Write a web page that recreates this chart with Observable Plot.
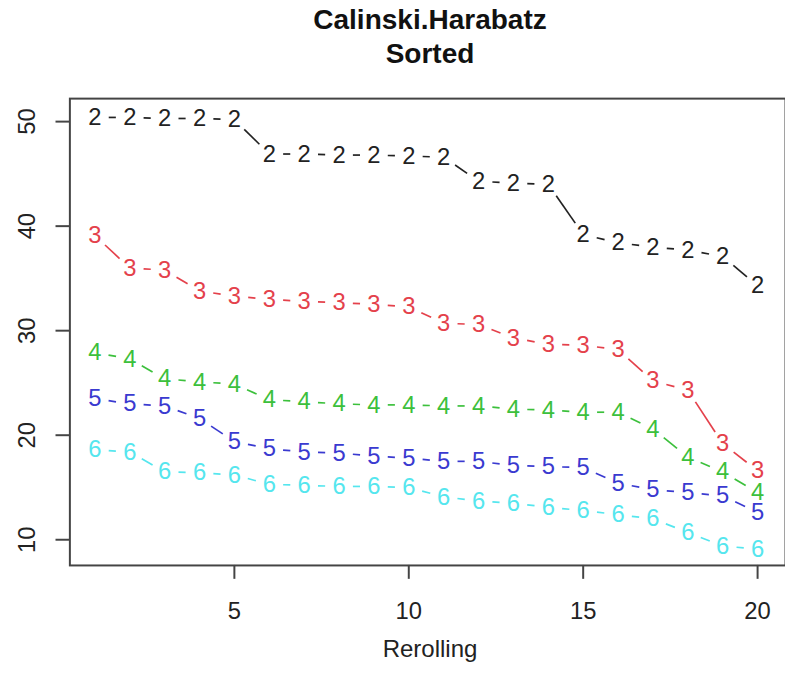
<!DOCTYPE html>
<html><head><meta charset="utf-8">
<script src="https://cdn.jsdelivr.net/npm/d3@7"></script>
<script src="https://cdn.jsdelivr.net/npm/@observablehq/plot@0.6"></script>
<style>
body{margin:0;background:#fff;}
#wrap{position:relative;width:785px;height:687px;overflow:hidden;background:#fff;font-family:"Liberation Sans",Arial,Helvetica,sans-serif;}
#chart{position:absolute;left:0;top:0;}
#title{position:absolute;left:0;top:3px;width:860px;text-align:center;font-weight:bold;font-size:28px;line-height:34px;color:#111;}
#xlab{position:absolute;left:0;top:635px;width:860px;text-align:center;font-size:24px;line-height:28px;color:#222;}
</style></head><body>
<div id="wrap"><div id="chart"></div><div id="title">Calinski.Harabatz<br>Sorted</div><div id="xlab">Rerolling</div></div>
<script>
const rerolling = [1,2,3,4,5,6,7,8,9,10,11,12,13,14,15,16,17,18,19,20];
const seriesNames = ["2","3","4","5","6"];
const seriesColors = ["#222222","#e4414b","#3cc03c","#3a3ad0","#55e6ee"];
const k2 = [50.4,50.4,50.3,50.3,50.2,46.9,46.9,46.8,46.8,46.7,46.6,44.3,44.1,44.0,39.2,38.4,38.0,37.7,37.1,34.3];
const k3 = [39.1,36.0,35.8,33.8,33.3,33.0,32.8,32.7,32.5,32.3,30.7,30.6,29.3,28.7,28.6,28.2,25.2,24.3,19.2,16.6];
const k4 = [27.9,27.3,25.4,25.1,24.9,23.4,23.2,23.0,22.9,22.9,22.8,22.8,22.5,22.4,22.2,22.2,20.6,17.9,16.5,14.5];
const k5 = [23.5,23.0,22.8,21.6,19.4,18.7,18.4,18.3,18.0,17.8,17.5,17.5,17.1,17.0,16.9,15.4,14.8,14.5,14.2,12.6];
const k6 = [18.6,18.4,16.5,16.4,16.2,15.3,15.2,15.1,15.1,15.0,14.1,13.7,13.5,13.1,12.8,12.4,12.0,10.7,9.4,9.1];
const xTicks = [5,10,15,20];
const yTicks = [10,20,30,40,50];

const allSeries = [k2,k3,k4,k5,k6];
const points = [];
const segments = [];
allSeries.forEach((vals, s) => {
  vals.forEach((v, i) => {
    points.push({series: seriesNames[s], x: rerolling[i], y: v});
    if (i < vals.length - 1) {
      segments.push({series: seriesNames[s], x1: rerolling[i], y1: v, x2: rerolling[i+1], y2: vals[i+1]});
    }
  });
});

const chart = Plot.plot({
  width: 792,
  height: 687,
  marginTop: 99,
  marginBottom: 117,
  marginLeft: 70,
  marginRight: 0,
  style: {fontFamily: '"Liberation Sans", Arial, Helvetica, sans-serif', background: "white", color: "#222"},
  x: {domain: [0.284, 20.8], axis: null},
  y: {domain: [7.54, 52.2], axis: null},
  color: {domain: seriesNames, range: seriesColors},
  marks: [
    Plot.frame({stroke: "#444", strokeWidth: 2}),
    Plot.axisX({ticks: xTicks, tickSize: 14, tickPadding: 23, fontSize: 24, label: null, stroke: "#444", strokeWidth: 2, fill: "#222"}),
    Plot.axisY({ticks: yTicks, tickSize: 14, tickPadding: 21, tickRotate: -90, fontSize: 24, label: null, stroke: "#444", strokeWidth: 2, fill: "#222"}),
    Plot.arrow(segments, {x1: "x1", y1: "y1", x2: "x2", y2: "y2", stroke: "series", strokeWidth: 1.7, headLength: 0, insetStart: 14, insetEnd: 14, strokeLinecap: "butt"}),
    Plot.text(points, {x: "x", y: "y", text: "series", fill: "series", fontSize: 24})
  ]
});
document.getElementById("chart").appendChild(chart);
</script>
</body></html>
